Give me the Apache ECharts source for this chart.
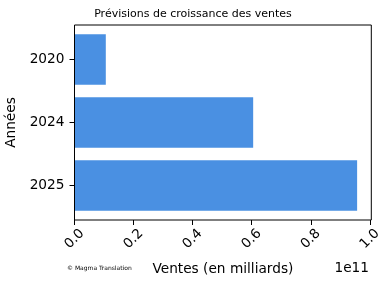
<!DOCTYPE html>
<html><head><meta charset="utf-8">
<script src="https://cdn.jsdelivr.net/npm/echarts@6/dist/echarts.min.js"></script>
<style>html,body{margin:0;padding:0;background:#fff}#c{width:390px;height:285px}</style>
</head><body><div id="c"></div>
<script>
var categories = ['2020', '2024', '2025'];
var sales = [0.106e11, 0.605e11, 0.957e11];
var xTicks = [0, 0.2e11, 0.4e11, 0.6e11, 0.8e11, 1.0e11];
var xMax = 1.005e11;

var font = 'DejaVu Sans';
var chart = echarts.init(document.getElementById('c'), null, {renderer: 'canvas'});
chart.setOption({
  animation: false,
  backgroundColor: '#fff',
  grid: {left: 74.5, right: 18.7, top: 28, bottom: 68, containLabel: false, outerBoundsMode: 'none'},
  xAxis: {
    type: 'value', min: 0, max: xMax, offset: 3,
    splitLine: {show: false},
    axisLine: {show: false},
    axisTick: {show: true, length: 5, lineStyle: {color: '#000'}, customValues: xTicks},
    axisLabel: {
      customValues: xTicks,
      rotate: 45, align: 'center', verticalAlign: 'middle', margin: 19,
      fontFamily: font, fontSize: 13.5, color: '#000',
      formatter: function (v) { return (v / 1e11).toFixed(1); }
    },
    name: 'Ventes (en milliards)', nameLocation: 'middle', nameGap: 42,
    nameTextStyle: {fontFamily: font, fontSize: 13.7, color: '#000'}
  },
  yAxis: {
    type: 'category', data: categories, inverse: true,
    axisLine: {show: false},
    axisTick: {show: true, alignWithLabel: true, length: 5, lineStyle: {color: '#000'}},
    axisLabel: {margin: 10, fontFamily: font, fontSize: 13.7, color: '#000'},
    name: 'Années', nameLocation: 'middle', nameGap: 45,
    nameTextStyle: {fontFamily: font, fontSize: 13.7, color: '#000'}
  },
  series: [{
    type: 'bar', data: sales, barCategoryGap: '20%',
    itemStyle: {color: '#4a90e2'}
  }],
  graphic: [
    {type: 'rect', shape: {x: 74.5, y: 25, width: 296.8, height: 195},
     style: {fill: null, stroke: '#000', lineWidth: 1}, z: 10},
    {type: 'text', x: 193, y: 14,
     style: {text: 'Prévisions de croissance des ventes', font: '11px "DejaVu Sans"', fill: '#000',
             textAlign: 'center', textVerticalAlign: 'middle'}},
    {type: 'text', right: 21, top: 261,
     style: {text: '1e11', font: '13.7px "DejaVu Sans"', fill: '#000'}},
    {type: 'text', left: 67, top: 265,
     style: {text: '© Magma Translation', font: '6px "DejaVu Sans"', fill: '#000'}}
  ]
});
</script></body></html>
